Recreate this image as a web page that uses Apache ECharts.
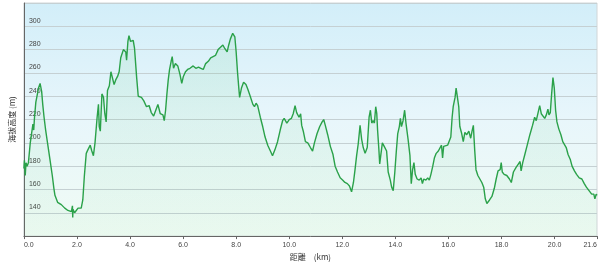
<!DOCTYPE html>
<html><head><meta charset="utf-8">
<script src="https://cdn.jsdelivr.net/npm/echarts@6/dist/echarts.min.js"></script>
<style>html,body{margin:0;padding:0;background:#fff}#c{width:600px;height:266px}</style>
</head><body><div id="c"></div>
<script>
const distKm = [0.0,0.02,0.05,0.08,0.12,0.17,0.24,0.34,0.37,0.40,0.45,0.51,0.55,0.61,0.63,0.67,0.71,0.76,0.82,0.89,0.98,1.07,1.13,1.17,1.27,1.41,1.54,1.66,1.79,1.83,1.84,1.85,1.91,2.04,2.16,2.22,2.28,2.35,2.41,2.50,2.56,2.62,2.68,2.76,2.81,2.84,2.88,2.94,3.0,3.05,3.10,3.15,3.22,3.28,3.34,3.40,3.46,3.53,3.59,3.65,3.75,3.84,3.87,3.92,3.96,4.02,4.12,4.17,4.25,4.31,4.43,4.52,4.62,4.72,4.80,4.89,4.97,5.05,5.14,5.24,5.29,5.34,5.39,5.44,5.49,5.55,5.59,5.64,5.71,5.80,5.88,5.95,6.01,6.09,6.17,6.26,6.38,6.48,6.58,6.67,6.76,6.85,6.95,7.04,7.13,7.22,7.32,7.41,7.50,7.57,7.66,7.72,7.78,7.87,7.95,8.00,8.05,8.10,8.13,8.20,8.28,8.37,8.44,8.53,8.63,8.69,8.75,8.81,8.91,9.00,9.09,9.19,9.29,9.37,9.46,9.56,9.66,9.75,9.81,9.91,10.00,10.08,10.15,10.22,10.28,10.37,10.43,10.47,10.53,10.61,10.70,10.80,10.88,10.95,11.05,11.15,11.24,11.30,11.36,11.45,11.55,11.65,11.73,11.82,11.92,12.02,12.10,12.19,12.27,12.35,12.42,12.48,12.54,12.60,12.67,12.73,12.79,12.86,12.94,13.01,13.06,13.11,13.16,13.21,13.26,13.30,13.33,13.38,13.41,13.46,13.51,13.58,13.67,13.73,13.81,13.86,13.92,13.98,14.04,14.09,14.15,14.19,14.23,14.29,14.35,14.40,14.48,14.55,14.60,14.65,14.70,14.75,14.82,14.90,14.97,15.02,15.07,15.15,15.22,15.28,15.34,15.41,15.47,15.54,15.62,15.69,15.74,15.78,15.82,15.89,15.97,16.04,16.09,16.14,16.18,16.25,16.29,16.34,16.39,16.43,16.50,16.56,16.62,16.69,16.77,16.84,16.89,16.94,16.99,17.04,17.11,17.18,17.26,17.33,17.39,17.45,17.55,17.64,17.73,17.80,17.87,17.95,17.99,18.03,18.10,18.20,18.30,18.37,18.45,18.55,18.64,18.70,18.74,18.80,18.88,18.97,19.07,19.17,19.25,19.31,19.38,19.44,19.50,19.56,19.63,19.69,19.75,19.79,19.84,19.89,19.94,19.99,20.04,20.09,20.16,20.24,20.31,20.38,20.44,20.51,20.59,20.66,20.75,20.83,20.93,21.03,21.12,21.20,21.30,21.40,21.48,21.52,21.57,21.6];
const elevM = [178,185,172,183,180,183,200,216,211,222,235,242,247,251,252,244,233,222,211,200,186,172,161,155,149,147,144,142,141,146,136,143,140,144,144,151,172,191,194,198,193,189,200,222,233,214,210,242,239,225,218,245,249,261,260,250,254,257,261,273,280,278,271,287,292,287,288,281,256,240,239,236,231,232,226,223,228,233,225,224,219,228,242,254,263,270,274,264,268,266,259,251,257,261,263,264,266,264,265,264,263,268,270,273,274,275,280,282,284,281,278,284,289,294,291,278,261,247,239,247,252,250,246,240,233,231,234,232,222,214,205,198,193,189,194,201,211,219,221,217,220,221,225,232,226,222,225,215,210,201,200,196,193,200,208,214,218,220,215,207,197,190,180,175,170,168,166,165,163,158,166,177,189,199,215,203,196,191,196,222,228,217,219,217,231,225,211,194,182,191,200,197,193,175,168,162,159,175,194,208,214,221,214,219,228,217,203,189,165,177,183,173,169,168,170,165,169,168,170,168,173,180,187,191,193,194,198,187,197,198,198,198,205,222,231,239,247,239,231,214,208,201,209,207,210,204,210,215,194,177,172,171,166,162,152,148,151,154,161,169,176,177,183,175,173,172,169,166,175,179,182,184,176,183,190,198,207,215,222,219,226,232,225,226,221,224,229,224,226,242,256,247,228,218,212,207,201,202,196,190,186,180,176,173,170,169,165,162,159,156,156,152,156,155];
const xTickStep = 2;
const yTickStep = 20;

const chart = echarts.init(document.getElementById('c'), null, {renderer: 'canvas'});
const pts = distKm.map((d, i) => [d, elevM[i]]);
chart.setOption({
  animation: false,
  grid: {
    left: 16, right: 3, top: 3, bottom: 24,
    show: true,
    borderColor: '#d0d6d8', borderWidth: 1,
    backgroundColor: {
      type: 'linear', x: 0, y: 0, x2: 0, y2: 1,
      colorStops: [
        {offset: 0, color: '#d2eef9'},
        {offset: 0.5, color: '#e8f6fb'},
        {offset: 1, color: '#f0fbf4'}
      ]
    }
  },
  xAxis: {
    type: 'value', min: 0, max: 21.6, interval: xTickStep,
    name: '距離　(km)', nameLocation: 'middle', nameGap: 16,
    nameTextStyle: {fontSize: 8, color: '#333', fontFamily: 'Noto Sans CJK JP'},
    axisLine: {show: true, lineStyle: {color: '#666', width: 1}},
    axisTick: {show: true, length: 3, lineStyle: {color: '#666'}},
    axisLabel: {
      fontSize: 7, color: '#444', margin: 5, fontFamily: 'Liberation Sans',
      formatter: v => v.toFixed(1),
      alignMinLabel: 'left', alignMaxLabel: 'right'
    },
    splitLine: {show: false}
  },
  yAxis: {
    type: 'value', min: 120, max: 320, interval: yTickStep,
    name: '海拔高度 (m)', nameLocation: 'middle', nameGap: 4, nameRotate: 90,
    nameTextStyle: {fontSize: 8, color: '#333', fontFamily: 'Noto Sans CJK JP'},
    axisLine: {show: true, lineStyle: {color: '#666', width: 1}},
    axisTick: {show: false},
    axisLabel: {
      inside: true, margin: 5, fontSize: 7, color: '#444', fontFamily: 'Liberation Sans',
      verticalAlign: 'bottom', padding: [0, 0, 2, 0],
      showMinLabel: false, showMaxLabel: false
    },
    splitLine: {show: true, lineStyle: {color: '#c5d0d3', width: 1}}
  },
  series: [{
    type: 'line', data: pts, showSymbol: false, symbol: 'none',
    lineStyle: {color: '#2aa149', width: 1.4},
    areaStyle: {
      color: {
        type: 'linear', x: 0, y: 0, x2: 0, y2: 1,
        colorStops: [
          {offset: 0, color: 'rgba(80,200,110,0.16)'},
          {offset: 1, color: 'rgba(80,200,110,0.06)'}
        ]
      }
    }
  }]
});
</script>
</body></html>
